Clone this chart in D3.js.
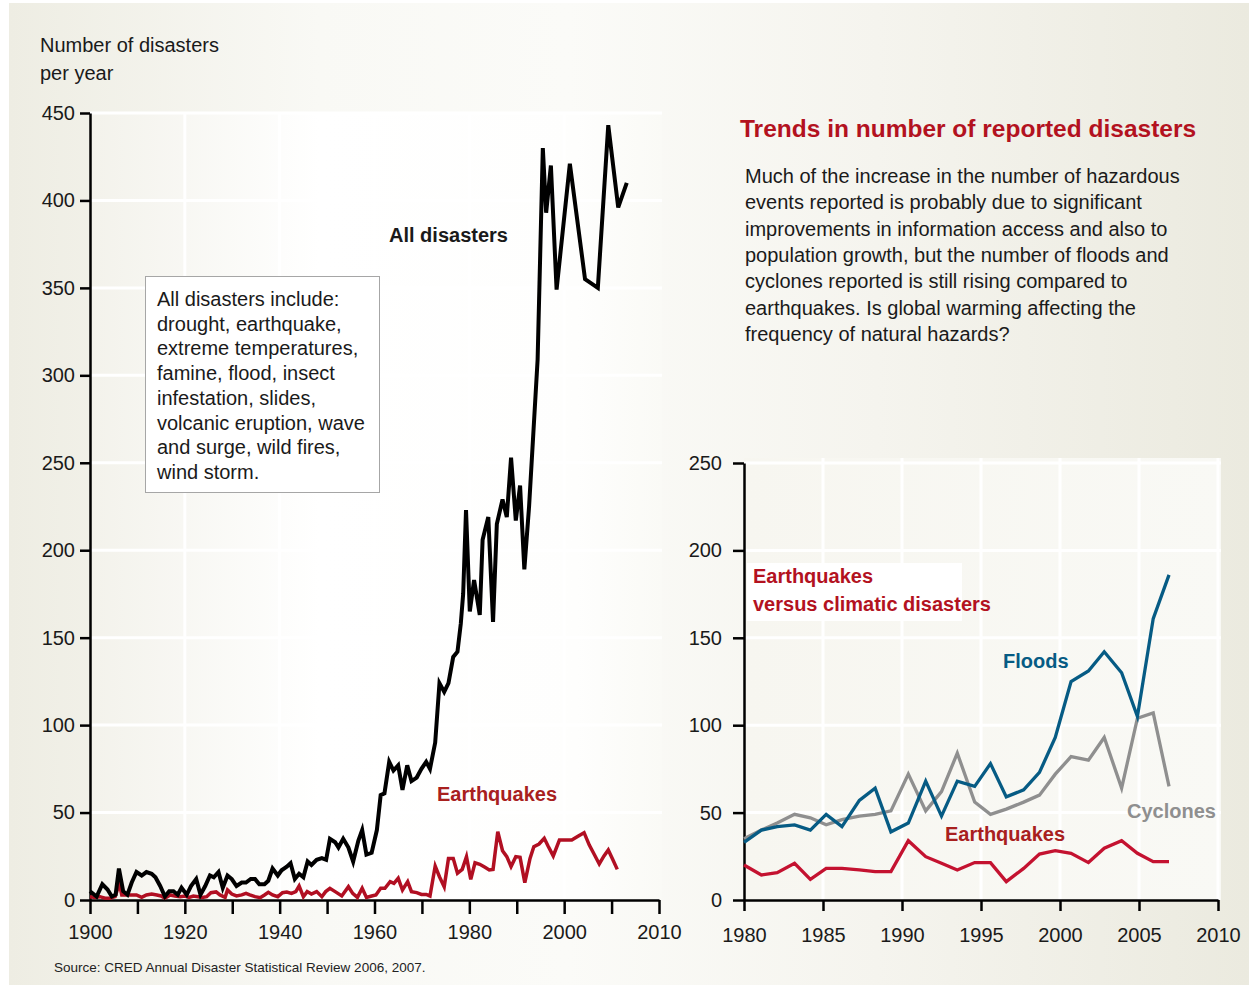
<!DOCTYPE html>
<html>
<head>
<meta charset="utf-8">
<script src="https://cdn.jsdelivr.net/npm/d3@7"></script>
<style>
  body { margin:0; background:#fff; }
  svg text { font-family:"Liberation Sans", Arial, sans-serif; fill:#1a1a1a; }
  .axis path, .axis line { stroke:#000; stroke-width:2.5; }
  .axis text { font-size:20px; fill:#1a1a1a; }
</style>
</head>
<body>
<script>
// All disasters, 1900 onwards (years)
var allYears = [1900.0,1901.4,1902.6,1903.7,1904.6,1905.4,1906.1,1907.0,1907.9,1908.8,1909.8,
  1910.9,1911.9,1913.0,1913.8,1914.8,1915.8,1916.7,1917.6,1918.5,1919.3,
  1920.4,1921.3,1922.4,1923.3,1924.3,1925.3,1926.1,1927.1,1928.0,1929.0,1929.9,
  1930.9,1932.0,1932.9,1933.9,1934.8,1935.7,1936.8,1937.6,1938.5,1939.6,
  1940.4,1941.5,1942.3,1943.2,1944.1,1945.0,1945.9,1946.7,1947.8,1948.9,1949.8,
  1950.6,1951.7,1952.4,1953.4,1954.5,1955.5,1956.6,1957.4,1958.3,1959.4,
  1960.5,1961.3,1962.1,1963.1,1964.0,1965.0,1965.9,1966.9,1967.8,1968.9,1969.9,
  1970.9,1971.7,1972.8,1973.7,1974.7,1975.6,1976.6,1977.5,1978.2,1978.7,1979.3,
  1980.1,1981.0,1982.2,1982.8,1984.0,1985.0,1985.8,1987.0,1987.9,1988.8,1989.8,
  1990.7,1991.6,1992.6,1993.5,1994.4,1995.5,1996.2,1997.2,1998.4,
  2001.2,2004.4,2007.1,2009.3,2011.4,2013.2];
var allCounts = [5,2,9,6,2,3,18,5,3,10,16,
  14,16,15,13,8,2,5,5,3,7,
  3,8,12,3,8,14,13,16,7,14,12,
  8,10,10,12,12,9,9,11,18,14,
  17,19,21,12,15,13,22,20,23,24,23,
  35,33,30,35,30,22,34,40,26,27,
  40,60,61,79,74,77,63,77,68,70,75,
  79,75,90,124,119,124,139,142,158,175,223,
  165,183,163,206,219,159,215,229,219,253,217,
  237,189,225,267,309,430,393,420,349,
  421,355,350,443,396,410];

// Earthquakes, 1900 onwards
var quakeYears = [1900.0,1901.1,1902.1,1903.2,1904.2,1905.3,1906.2,1906.7,1907.7,1908.8,1909.8,
  1910.9,1911.9,1913.0,1914.1,1915.0,1915.8,1916.9,1917.9,1919.0,
  1920.0,1920.9,1921.8,1922.8,1923.7,1924.6,1925.5,1926.6,1927.4,1928.5,1929.0,1929.9,
  1930.9,1932.0,1932.9,1933.7,1934.8,1935.9,1936.8,1937.6,1938.5,1939.6,
  1940.6,1941.5,1942.5,1943.4,1944.1,1945.0,1945.8,1946.7,1947.8,1948.9,1949.7,
  1950.6,1951.7,1953.1,1954.5,1955.4,1956.4,1957.4,1958.3,1959.4,
  1960.3,1961.3,1962.2,1963.3,1964.1,1965.0,1965.9,1967.0,1967.8,1968.9,1969.9,
  1970.9,1971.7,1972.8,1973.7,1974.7,1975.6,1976.6,1977.5,1978.5,1979.4,
  1980.3,1981.2,1982.2,1983.3,1984.2,1985.0,1986.0,1987.0,1987.9,1988.8,1989.8,
  1990.7,1991.7,1992.8,1993.6,1994.7,1995.8,1996.6,1997.7,1999.0,
  2000.2,2001.6,2003.0,2004.2,2005.3,2006.3,2007.4,2008.4,2009.3,2010.2,2011.2];
var quakeCounts = [1.9,1.5,1.9,1.0,1.0,1.9,9.5,2.9,2.9,2.9,2.9,
  1.5,2.9,3.4,2.9,2.3,1.0,2.9,2.3,1.9,
  2.3,1.5,2.3,1.9,1.5,1.9,4.2,4.6,2.9,1.5,5.7,3.4,
  2.3,2.9,3.8,2.9,1.9,1.3,2.9,4.4,2.9,1.9,
  4.2,4.6,3.8,4.8,8.0,1.9,4.8,3.4,4.8,1.9,4.8,
  6.7,4.8,2.3,7.6,3.8,1.5,6.7,1.5,2.3,
  2.9,6.7,6.7,10.5,9.5,12.4,5.7,10.5,4.8,4.2,3.2,
  3.2,2.3,19.4,13.3,7.6,23.8,23.8,15.3,17.5,24.8,
  11.8,21.3,20.4,18.7,17.2,17.5,39.1,28.2,24.8,19.1,24.8,
  24.4,9.9,23.8,30.5,32.0,35.3,30.9,25.2,34.3,
  34.3,34.3,36.6,38.5,31.4,26.3,20.6,25.2,28.6,23.4,17.5];

// Earthquakes versus climatic disasters, 1980 onwards
var climYears = [1980.0,1981.1,1982.1,1983.2,1984.2,1985.2,1986.2,1987.3,1988.3,1989.3,
  1990.4,1991.5,1992.5,1993.5,1994.6,1995.6,1996.6,1997.7,1998.7,1999.7,
  2000.7,2001.8,2002.8,2003.9,2004.9,2005.9,2006.9];
var floods = [33,40,42,43,40,49,42,57,64,39,44,68,48,68,65,78,59,63,73,93,125,131,142,130,105,161,186];
var cyclones = [35,40,44,49,47,43,46,48,49,51,72,51,62,84,56,49,52,56,60,72,82,80,93,64,104,107,65];
var quakes = [20,14.3,15.6,21,11.8,18.1,18.1,17.2,16.2,16.2,33.9,24.8,21,17.2,21.4,21.4,10.5,18.1,26.3,28.2,26.7,21.4,29.6,33.9,26.7,21.9,21.9];

// ticks
var xTicksL = [1900,1910,1920,1930,1940,1950,1960,1970,1980,1990,2000,2010,2020];
var xLabelsL = ["1900","","1920","","1940","","1960","","1980","","2000","","2010"];
var yTicksL = [0,50,100,150,200,250,300,350,400,450];
var gridYearsL = [1920,1940,1960,1980,2000];
var xTicksR = [1980,1985,1990,1995,2000,2005,2010];
var yTicksR = [0,50,100,150,200,250];

var boxLines = ["All disasters include:","drought, earthquake,","extreme temperatures,","famine, flood, insect",
  "infestation, slides,","volcanic eruption, wave","and surge, wild fires,","wind storm."];
var introLines = ["Much of the increase in the number of hazardous","events reported is probably due to significant",
  "improvements in information access and also to","population growth, but the number of floods and",
  "cyclones reported is still rising compared to","earthquakes. Is global warming affecting the",
  "frequency of natural hazards?"];

var w = 1254, h = 987;
var svg = d3.select("body").append("svg").attr("width", w).attr("height", h);
var defs = svg.append("defs");

function grad(id, stops) {
  var g = defs.append("linearGradient").attr("id", id).attr("x1", 0).attr("x2", 1).attr("y1", 0).attr("y2", 0);
  stops.forEach(function(s){ g.append("stop").attr("offset", s[0]).attr("stop-color", s[1]); });
}
grad("bgGrad", [["0%","#eeede3"],["25%","#f9f9f5"],["45%","#fbfbf8"],["70%","#f5f4ee"],["100%","#ebeadf"]]);
grad("plotL", [["0%","#f3f2eb"],["40%","#ffffff"],["85%","#fefefd"],["100%","#fafaf6"]]);
grad("plotR", [["0%","#f7f6f0"],["100%","#f9f9f5"]]);

svg.append("rect").attr("x", 9).attr("y", 3).attr("width", 1240).attr("height", 982).attr("fill", "url(#bgGrad)");

// ---------- left chart ----------
var L = { left:90, right:659, top:113, bottom:900 };
var xL = d3.scaleLinear().domain([1900, 2020]).range([L.left, L.right]);
var yL = d3.scaleLinear().domain([0, 450]).range([L.bottom, L.top]);

svg.append("rect").attr("x", L.left).attr("y", L.top).attr("width", L.right - L.left + 3).attr("height", L.bottom - L.top)
  .attr("fill", "url(#plotL)");

svg.append("g").selectAll("line").data(yTicksL.slice(1)).enter().append("line")
  .attr("x1", L.left).attr("x2", L.right + 3)
  .attr("y1", function(d){ return yL(d); }).attr("y2", function(d){ return yL(d); })
  .attr("stroke", "#fff").attr("stroke-width", 3);
svg.append("g").selectAll("line").data(gridYearsL).enter().append("line")
  .attr("x1", function(d){ return xL(d); }).attr("x2", function(d){ return xL(d); })
  .attr("y1", L.top).attr("y2", L.bottom)
  .attr("stroke", "#fff").attr("stroke-width", 3);

svg.append("g").attr("class", "axis")
  .attr("transform", "translate(0," + L.bottom + ")")
  .call(d3.axisBottom(xL).tickValues(xTicksL).tickSize(14).tickSizeOuter(0).tickPadding(11)
    .tickFormat(function(d, i){ return xLabelsL[i]; }));
svg.append("g").attr("class", "axis")
  .attr("transform", "translate(" + L.left + ",0)")
  .call(d3.axisLeft(yL).tickValues(yTicksL).tickSize(10).tickSizeOuter(0).tickPadding(5));

var lineL = d3.line().x(function(d){ return xL(d[0]); }).y(function(d){ return yL(d[1]); });
svg.append("path").datum(d3.zip(quakeYears, quakeCounts)).attr("d", lineL)
  .attr("fill", "none").attr("stroke", "#b10f22").attr("stroke-width", 3.5);
svg.append("path").datum(d3.zip(allYears, allCounts)).attr("d", lineL)
  .attr("fill", "none").attr("stroke", "#000").attr("stroke-width", 4);

// box with list of disaster types
svg.append("rect").attr("x", 145.5).attr("y", 276.5).attr("width", 234).attr("height", 216)
  .attr("fill", "#fff").attr("stroke", "#a6a6a6").attr("stroke-width", 1);
svg.append("text").attr("x", 157).attr("y", 306).attr("font-size", "20px")
  .selectAll("tspan").data(boxLines).enter().append("tspan")
  .attr("x", 157).attr("dy", function(d, i){ return i ? 24.7 : 0; })
  .text(function(d){ return d; });

svg.append("text").attr("x", 389).attr("y", 242).attr("font-size", "20px").attr("font-weight", "bold")
  .text("All disasters");
svg.append("text").attr("x", 437).attr("y", 801).attr("font-size", "20px").attr("font-weight", "bold")
  .style("fill", "#a8201e").text("Earthquakes");

svg.append("text").attr("x", 40).attr("y", 52).attr("font-size", "20px").text("Number of disasters");
svg.append("text").attr("x", 40).attr("y", 80).attr("font-size", "20px").text("per year");

// ---------- title and intro ----------
svg.append("text").attr("x", 740).attr("y", 137).attr("font-size", "24.5px").attr("font-weight", "bold")
  .style("fill", "#b3121f").text("Trends in number of reported disasters");
svg.append("text").attr("x", 745).attr("y", 183).attr("font-size", "20px")
  .selectAll("tspan").data(introLines).enter().append("tspan")
  .attr("x", 745).attr("dy", function(d, i){ return i ? 26.3 : 0; })
  .text(function(d){ return d; });

// ---------- right chart ----------
var R = { left:744, right:1218, top:463, bottom:900 };
var xR = d3.scaleLinear().domain([1980, 2010]).range([R.left, R.right]);
var yR = d3.scaleLinear().domain([0, 250]).range([R.bottom, R.top]);

svg.append("rect").attr("x", R.left).attr("y", R.top - 5).attr("width", R.right - R.left + 3).attr("height", R.bottom - R.top + 5)
  .attr("fill", "url(#plotR)");
svg.append("g").selectAll("line").data(yTicksR.slice(1)).enter().append("line")
  .attr("x1", R.left).attr("x2", R.right + 3)
  .attr("y1", function(d){ return yR(d); }).attr("y2", function(d){ return yR(d); })
  .attr("stroke", "#fff").attr("stroke-width", 3);
svg.append("g").selectAll("line").data(xTicksR.slice(1)).enter().append("line")
  .attr("x1", function(d){ return xR(d); }).attr("x2", function(d){ return xR(d); })
  .attr("y1", R.top - 5).attr("y2", R.bottom)
  .attr("stroke", "#fff").attr("stroke-width", 3);

// white patch behind the sub-title
svg.append("rect").attr("x", 747).attr("y", 563).attr("width", 215).attr("height", 58).attr("fill", "#fff");
svg.append("text").attr("x", 753).attr("y", 583).attr("font-size", "20px").attr("font-weight", "bold")
  .style("fill", "#b3121f").text("Earthquakes");
svg.append("text").attr("x", 753).attr("y", 611).attr("font-size", "20px").attr("font-weight", "bold")
  .style("fill", "#b3121f").text("versus climatic disasters");

svg.append("g").attr("class", "axis")
  .attr("transform", "translate(0," + R.bottom + ")")
  .call(d3.axisBottom(xR).tickValues(xTicksR).tickSize(11).tickSizeOuter(0).tickPadding(17).tickFormat(d3.format("d")));
svg.append("g").attr("class", "axis")
  .attr("transform", "translate(" + R.left + ",0)")
  .call(d3.axisLeft(yR).tickValues(yTicksR).tickSize(11).tickSizeOuter(0).tickPadding(11));

var lineR = d3.line().x(function(d){ return xR(d[0]); }).y(function(d){ return yR(d[1]); });
[[cyclones, "#8f8f8f"], [floods, "#065b84"], [quakes, "#c41230"]].forEach(function(s){
  svg.append("path").datum(d3.zip(climYears, s[0])).attr("d", lineR)
    .attr("fill", "none").attr("stroke", s[1]).attr("stroke-width", 3.3);
});

svg.append("text").attr("x", 1003).attr("y", 668).attr("font-size", "20px").attr("font-weight", "bold")
  .style("fill", "#065b84").text("Floods");
svg.append("text").attr("x", 1127).attr("y", 818).attr("font-size", "20px").attr("font-weight", "bold")
  .style("fill", "#8f8f8f").text("Cyclones");
svg.append("text").attr("x", 945).attr("y", 841).attr("font-size", "20px").attr("font-weight", "bold")
  .style("fill", "#a8201e").text("Earthquakes");

svg.append("text").attr("x", 54).attr("y", 972).attr("font-size", "13.5px").style("fill", "#222")
  .text("Source: CRED Annual Disaster Statistical Review 2006, 2007.");
</script>
</body>
</html>
